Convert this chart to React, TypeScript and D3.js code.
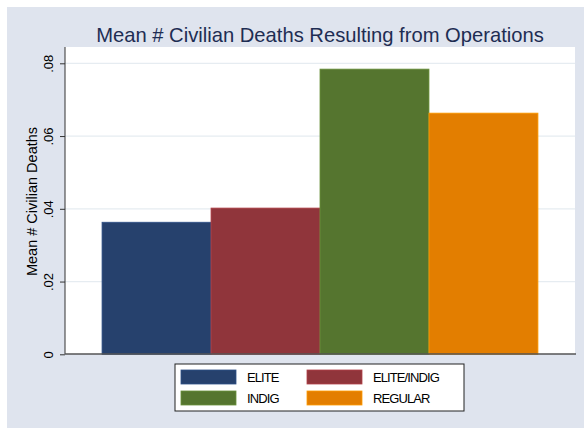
import { useEffect, useRef } from "react"
import * as d3 from "d3"

const groups = ["ELITE", "ELITE/INDIG", "INDIG", "REGULAR"]
const means = [0.0363, 0.0402, 0.0784, 0.0663]
const colors = ["#26416d", "#90353b", "#55752f", "#e37e00"]
const yTicks = [0, 0.02, 0.04, 0.06, 0.08]
const tickLabels = ["0", ".02", ".04", ".06", ".08"]

const W = 584
const H = 428
const FONT = "Liberation Sans, Arial, sans-serif"

const App = () => {
  const ref = useRef<SVGSVGElement>(null)

  useEffect(() => {
    const svg = d3.select(ref.current)
    svg.selectAll("*").remove()

    const left = 65
    const right = 575
    const top = 47
    const bottom = 354

    // outer background
    svg.append("rect").attr("width", W).attr("height", H).attr("fill", "#fff")
    svg.append("rect").attr("x", 7).attr("y", 7).attr("width", W - 7).attr("height", H - 7).attr("fill", "#dfe4ee")
    svg.append("rect").attr("x", left).attr("y", top).attr("width", right - left).attr("height", bottom - top).attr("fill", "#fff")

    const y = d3.scaleLinear().domain([0, 0.08]).range([354.3, 63.3])
    const x = d3.scaleBand().domain(groups).range([left, right]).paddingInner(0).paddingOuter(0.34)

    // grid
    svg.append("g")
      .selectAll("line")
      .data(yTicks.slice(1))
      .join("line")
      .attr("x1", left)
      .attr("x2", right)
      .attr("y1", (d) => y(d))
      .attr("y2", (d) => y(d))
      .attr("stroke", "#e6ecf1")
      .attr("stroke-width", 1.2)

    // bars
    svg.append("g")
      .selectAll("rect")
      .data(groups)
      .join("rect")
      .attr("x", (d) => x(d) as number)
      .attr("width", x.bandwidth())
      .attr("y", (_, i) => y(means[i]))
      .attr("height", (_, i) => y(0) - y(means[i]))
      .attr("fill", (_, i) => colors[i])
      .attr("stroke", (_, i) => d3.color(colors[i])!.brighter(0.6).toString())
      .attr("stroke-width", 0.8)

    // y axis
    const ax = svg.append("g").attr("transform", `translate(${left},0)`)
    ax.call(d3.axisLeft(y).tickValues(yTicks).tickSize(5).tickFormat((_, i) => tickLabels[i]) as any)
    ax.select(".domain").attr("d", `M0,${top}V${bottom}`).attr("stroke", "#333")
    ax.selectAll(".tick line").attr("stroke", "#333")
    ax.selectAll(".tick text")
      .attr("x", null)
      .attr("dy", null)
      .attr("transform", "translate(-12.5,0) rotate(-90)")
      .attr("text-anchor", "middle")
      .attr("font-family", FONT)
      .attr("font-size", 13)
      .attr("fill", "#000")

    // baseline
    svg.append("line")
      .attr("x1", left)
      .attr("x2", right + 1)
      .attr("y1", bottom)
      .attr("y2", bottom)
      .attr("stroke", "#555")
      .attr("stroke-width", 1.5)

    // y label
    svg.append("text")
      .attr("transform", `translate(37,${(top + bottom) / 2 + 1}) rotate(-90)`)
      .attr("text-anchor", "middle")
      .attr("font-family", FONT)
      .attr("font-size", 14.5)
      .text("Mean # Civilian Deaths")

    // title
    svg.append("text")
      .attr("x", 320)
      .attr("y", 42)
      .attr("text-anchor", "middle")
      .attr("font-family", FONT)
      .attr("font-size", 20.2)
      .attr("fill", "#1e2d53")
      .text("Mean # Civilian Deaths Resulting from Operations")

    // legend
    const lg = svg.append("g")
    lg.append("rect")
      .attr("x", 175)
      .attr("y", 364)
      .attr("width", 289)
      .attr("height", 47)
      .attr("fill", "#fff")
      .attr("stroke", "#222")
      .attr("stroke-width", 1)
    groups.forEach((g, i) => {
      const cx = i % 2 === 0 ? 181 : 307
      const cy = i < 2 ? 370 : 391
      lg.append("rect")
        .attr("x", cx)
        .attr("y", cy)
        .attr("width", 55)
        .attr("height", 14)
        .attr("fill", colors[i])
        .attr("stroke", d3.color(colors[i])!.brighter(0.6).toString())
        .attr("stroke-width", 0.8)
      lg.append("text")
        .attr("x", cx + 66)
        .attr("y", cy + 12)
        .attr("font-family", FONT)
        .attr("font-size", 13)
        .attr("letter-spacing", -0.9)
        .text(g)
    })
  }, [])

  return (
    <div style={{ position: "absolute", left: 0, top: 0 }}>
      <svg ref={ref} width={W} height={H} style={{ display: "block" }}></svg>
    </div>
  )
}

export default App
